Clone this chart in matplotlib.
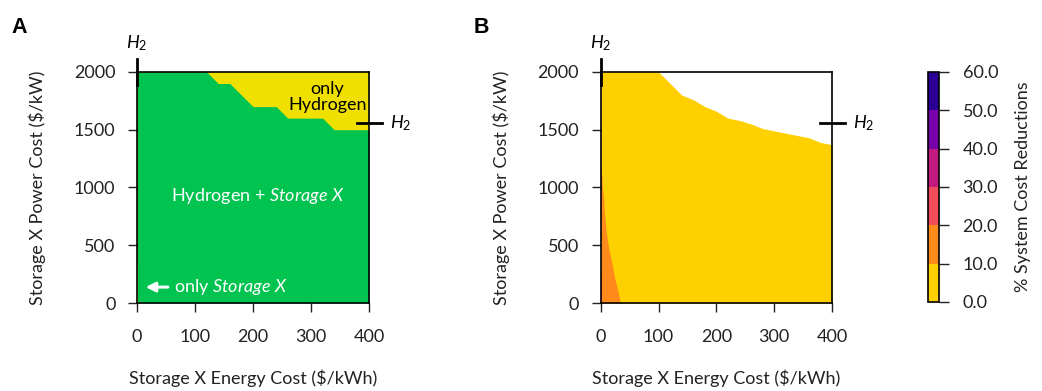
import matplotlib
matplotlib.use("Agg")
import matplotlib.pyplot as plt
from matplotlib.colors import ListedColormap, BoundaryNorm
import matplotlib.colorbar as mcb

plt.rcParams['font.family'] = ['Lato', 'DejaVu Sans']
plt.rcParams['mathtext.fontset'] = 'custom'
plt.rcParams['mathtext.rm'] = 'Lato'
plt.rcParams['mathtext.it'] = 'Lato:italic'

# panel A: upper limit of power cost where hydrogen + storage X both get built
a_energy = [0, 120, 140, 160, 200, 240, 260, 320, 340, 400]
a_power = [2000, 2000, 1900, 1900, 1700, 1700, 1600, 1600, 1500, 1500]
# tiny "only storage X" strip at zero energy cost
a_only_x_energy = [0, 2]
a_only_x_power = [350, 350]

# panel B: 0-10 % reduction region upper boundary
b_energy = [0, 100, 120, 140, 160, 180, 200, 220, 240, 260, 280, 300, 320, 340, 360, 380, 400]
b_power = [2000, 2000, 1900, 1800, 1760, 1700, 1660, 1600, 1580, 1550, 1510, 1490, 1470, 1450, 1430, 1390, 1370]
# 10-20 % region: energy-cost edge for each power cost
b_orange_power = [0, 100, 200, 300, 400, 500, 600, 700, 800, 900, 1000, 1100, 1200]
b_orange_energy = [34, 30, 25, 21, 17, 13, 10, 8, 6, 5, 3, 2, 0]
# 20-30 % sliver
b_red_power = [0, 220]
b_red_energy = [1.5, 1.5]

levels = [0, 10, 20, 30, 40, 50, 60]
level_colors = ['#FFD000', '#FF8A1C', '#F04C5C', '#C21B80', '#7800A8', '#2C0094']

green = '#00C44F'
yellow_a = '#EFE000'
FS = 13

fig = plt.figure(figsize=(10.42, 3.91), dpi=100)
axA = fig.add_axes([0.1315, 0.225, 0.2226, 0.591])
axB = fig.add_axes([0.5765, 0.225, 0.222, 0.591])
cax = fig.add_axes([0.8906, 0.228, 0.0106, 0.588])

def style(ax):
    ax.set_xlim(0, 400)
    ax.set_ylim(0, 2000)
    ax.set_xticks([0, 100, 200, 300, 400])
    ax.set_yticks([0, 500, 1000, 1500, 2000])
    ax.tick_params(direction='out', length=6.5, width=1, labelsize=FS, pad=9, colors='#222222')
    ax.tick_params(axis='x', pad=12)
    for s in ax.spines.values():
        s.set_linewidth(1.2)
    ax.set_xlabel('Storage X Energy Cost ($/kWh)', fontsize=FS, labelpad=18, color='#222222')
    ax.set_ylabel('Storage X Power Cost ($/kW)', fontsize=FS, labelpad=20, color='#222222')
    # H2 reference markers
    ax.plot([0, 0], [1890, 2110], color='black', lw=2, clip_on=False, zorder=5)
    ax.plot([380, 422], [1560, 1560], color='black', lw=2, clip_on=False, zorder=5)
    ax.text(0, 2250, r'$H_2$', ha='center', va='center', fontsize=FS, clip_on=False)
    ax.text(455, 1560, r'$H_2$', ha='center', va='center', fontsize=FS, clip_on=False)

# panel A
axA.fill_between([0, 400], 0, 2000, color=yellow_a, lw=0)
axA.fill_between(a_energy, 0, a_power, color=green, lw=0)
axA.fill_between(a_only_x_energy, 0, a_only_x_power, color=yellow_a, lw=0)
style(axA)
axA.text(328, 1783, 'only\nHydrogen', ha='center', va='center', fontsize=FS, linespacing=1.0)
axA.text(209, 926, 'Hydrogen + $\\it{Storage\\ X}$', ha='center', va='center', fontsize=FS, color='white')
axA.annotate('', xy=(10, 138), xytext=(58, 138),
             arrowprops=dict(arrowstyle='-|>', color='white', lw=2.2, mutation_scale=14))
axA.text(64, 138, 'only $\\it{Storage\\ X}$', ha='left', va='center', fontsize=FS, color='white')

# panel B
axB.fill_between(b_energy, 0, b_power, color=level_colors[0], lw=0)
axB.fill_betweenx(b_orange_power, 0, b_orange_energy, color=level_colors[1], lw=0)
axB.fill_betweenx(b_red_power, 0, b_red_energy, color=level_colors[2], lw=0)
style(axB)

fig.text(0.011, 0.915, 'A', fontsize=15.5, fontweight='bold', family='Liberation Sans', va='baseline')
fig.text(0.455, 0.915, 'B', fontsize=15.5, fontweight='bold', family='Liberation Sans', va='baseline')

cmap = ListedColormap(level_colors)
norm = BoundaryNorm(levels, cmap.N)
cb = mcb.ColorbarBase(cax, cmap=cmap, norm=norm, ticks=levels, orientation='vertical')
cb.set_ticklabels(['%.1f' % v for v in levels])
cb.outline.set_linewidth(1.2)
cax.tick_params(direction='out', length=7, width=1, labelsize=FS, pad=10, colors='#222222')
cb.set_label('% System Cost Reductions', fontsize=FS, labelpad=12, color='#222222')

fig.savefig('out.png', dpi=100)
